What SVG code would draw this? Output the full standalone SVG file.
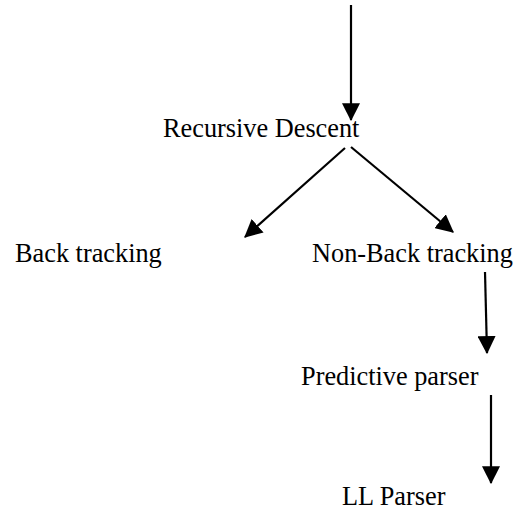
<svg xmlns="http://www.w3.org/2000/svg" width="515" height="511" viewBox="0 0 515 511">
<style>
text{font-family:"Liberation Serif","Times New Roman",serif;font-size:26.3px;fill:#000}
.c{stroke:#000;stroke-width:2.2;fill:none}
</style>
<defs>
<marker id="ah" markerUnits="userSpaceOnUse" markerWidth="18" markerHeight="18" viewBox="0 0 16 16" refX="15" refY="8" orient="auto">
<path d="M0,0 L16,8 L0,16 Z" fill="#000"/>
</marker>
</defs>
<rect width="515" height="511" fill="#fff"/>
<g id="connectors">
<line class="c" x1="351" y1="5" x2="351" y2="120" marker-end="url(#ah)"/>
<line class="c" x1="345" y1="148" x2="245" y2="237" marker-end="url(#ah)"/>
<line class="c" x1="351" y1="147" x2="453" y2="232" marker-end="url(#ah)"/>
<line class="c" x1="485" y1="272" x2="487" y2="353" marker-end="url(#ah)"/>
<line class="c" x1="491" y1="395" x2="491" y2="483" marker-end="url(#ah)"/>
</g>
<g id="recursive-descent"><text x="163" y="137">Recursive Descent</text></g>
<g id="back-tracking"><text x="15" y="262">Back tracking</text></g>
<g id="non-back-tracking"><text x="312" y="262">Non-Back tracking</text></g>
<g id="predictive-parser"><text x="301" y="385">Predictive parser</text></g>
<g id="ll-parser"><text x="342" y="505">LL Parser</text></g>
</svg>
